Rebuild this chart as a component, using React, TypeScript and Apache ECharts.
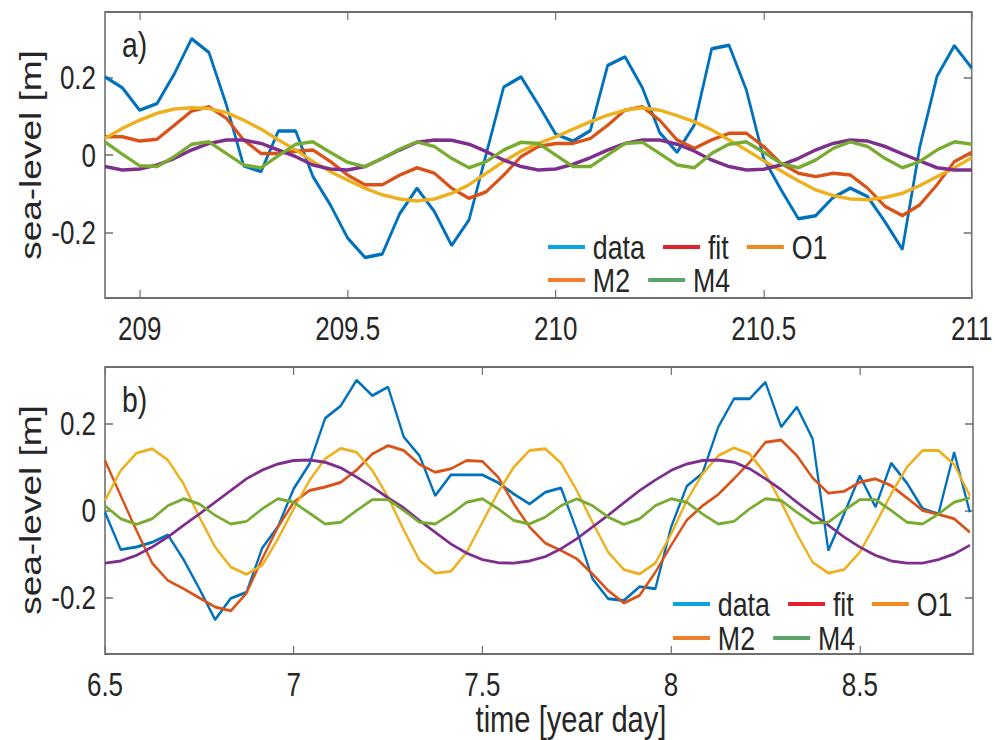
import React, { useEffect, useRef } from 'react';
import * as echarts from 'echarts';

// ---------- sampling (hourly) ----------
const A_START = 208 + 22 / 24;
const B_START = 6.5;
const HOUR = 1 / 24;

// ---------- panel a) values [m] ----------
const aData = [0.202, 0.174, 0.116, 0.133, 0.21, 0.301, 0.265, 0.13, -0.028, -0.043, 0.062, 0.062, -0.056, -0.129, -0.215, -0.265, -0.256, -0.152, -0.086, -0.146, -0.234, -0.168, 0.004, 0.176, 0.202, 0.13, 0.054, 0.036, 0.063, 0.232, 0.254, 0.174, 0.058, 0.007, 0.078, 0.275, 0.284, 0.168, -0.009, -0.09, -0.165, -0.157, -0.11, -0.086, -0.108, -0.173, -0.244, 0.02, 0.204, 0.283, 0.225];
const aFit = [0.047, 0.047, 0.036, 0.041, 0.077, 0.114, 0.125, 0.095, 0.039, 0.004, 0.004, 0.01, 0.013, -0.017, -0.052, -0.077, -0.077, -0.052, -0.033, -0.047, -0.086, -0.112, -0.095, -0.052, -0.004, 0.022, 0.03, 0.03, 0.043, 0.077, 0.116, 0.125, 0.09, 0.039, 0.017, 0.039, 0.056, 0.056, 0.022, -0.022, -0.047, -0.056, -0.047, -0.052, -0.086, -0.133, -0.157, -0.129, -0.077, -0.017, 0.007];
const aO1 = [0.043, 0.069, 0.09, 0.108, 0.119, 0.122, 0.12, 0.11, 0.09, 0.067, 0.039, 0.013, -0.017, -0.043, -0.065, -0.086, -0.103, -0.114, -0.119, -0.114, -0.099, -0.077, -0.047, -0.017, 0.01, 0.03, 0.047, 0.067, 0.086, 0.103, 0.116, 0.122, 0.116, 0.102, 0.086, 0.065, 0.039, 0.013, -0.015, -0.041, -0.067, -0.09, -0.105, -0.114, -0.116, -0.11, -0.099, -0.079, -0.056, -0.033, -0.007];
const aM2 = [-0.03, -0.039, -0.036, -0.026, -0.009, 0.013, 0.03, 0.039, 0.039, 0.03, 0.013, -0.004, -0.026, -0.036, -0.039, -0.03, -0.009, 0.013, 0.033, 0.039, 0.038, 0.028, 0.009, -0.013, -0.03, -0.039, -0.036, -0.024, -0.007, 0.013, 0.03, 0.039, 0.039, 0.028, 0.01, -0.013, -0.03, -0.039, -0.037, -0.026, -0.009, 0.013, 0.03, 0.039, 0.036, 0.022, 0.003, -0.015, -0.033, -0.039, -0.039];
const aM4 = [0.034, 0.002, -0.028, -0.03, -0.004, 0.028, 0.034, 0.004, -0.026, -0.033, -0.002, 0.028, 0.034, 0.007, -0.019, -0.03, -0.009, 0.015, 0.034, 0.022, -0.009, -0.033, -0.017, 0.013, 0.033, 0.03, 0.0, -0.03, -0.03, 0.0, 0.03, 0.033, 0.004, -0.026, -0.033, 0.004, 0.028, 0.034, 0.007, -0.022, -0.033, -0.013, 0.017, 0.034, 0.022, -0.009, -0.033, -0.017, 0.013, 0.034, 0.028];

// ---------- panel b) values [m] ----------
const bData = [-0.004, -0.09, -0.084, -0.073, -0.056, -0.113, -0.18, -0.251, -0.202, -0.188, -0.086, -0.037, 0.05, 0.107, 0.212, 0.241, 0.3, 0.264, 0.284, 0.169, 0.126, 0.034, 0.082, 0.082, 0.082, 0.064, 0.038, 0.015, 0.042, 0.052, -0.046, -0.157, -0.203, -0.207, -0.175, -0.18, -0.038, 0.056, 0.086, 0.192, 0.257, 0.257, 0.295, 0.192, 0.238, 0.165, -0.092, -0.008, 0.08, 0.008, 0.109, 0.063, 0.004, -0.008, 0.134, -0.004];
const bFit = [0.115, 0.034, -0.046, -0.121, -0.161, -0.18, -0.201, -0.222, -0.231, -0.19, -0.111, -0.038, 0.019, 0.046, 0.054, 0.065, 0.093, 0.13, 0.149, 0.138, 0.106, 0.088, 0.096, 0.115, 0.113, 0.077, 0.015, -0.038, -0.075, -0.092, -0.111, -0.146, -0.184, -0.213, -0.195, -0.142, -0.08, -0.022, 0.011, 0.037, 0.073, 0.111, 0.157, 0.162, 0.126, 0.075, 0.04, 0.044, 0.065, 0.073, 0.057, 0.029, 0.0, -0.009, -0.019, -0.05];
const bO1 = [0.023, 0.092, 0.132, 0.142, 0.116, 0.061, -0.015, -0.084, -0.13, -0.147, -0.126, -0.065, 0.004, 0.069, 0.119, 0.143, 0.134, 0.092, 0.031, -0.045, -0.115, -0.144, -0.14, -0.096, -0.027, 0.042, 0.1, 0.138, 0.142, 0.109, 0.046, -0.027, -0.096, -0.136, -0.146, -0.121, -0.054, 0.023, 0.084, 0.126, 0.144, 0.13, 0.084, 0.019, -0.054, -0.119, -0.144, -0.136, -0.096, -0.031, 0.038, 0.1, 0.138, 0.138, 0.106, 0.034];
const bM2 = [-0.121, -0.116, -0.103, -0.084, -0.061, -0.034, -0.008, 0.019, 0.046, 0.073, 0.093, 0.107, 0.115, 0.116, 0.111, 0.098, 0.077, 0.054, 0.029, 0.006, -0.023, -0.05, -0.077, -0.098, -0.113, -0.12, -0.121, -0.116, -0.106, -0.088, -0.065, -0.038, -0.011, 0.018, 0.046, 0.07, 0.092, 0.107, 0.115, 0.116, 0.111, 0.096, 0.073, 0.048, 0.019, -0.008, -0.034, -0.061, -0.084, -0.103, -0.116, -0.121, -0.121, -0.113, -0.1, -0.08];
const bM4 = [0.011, -0.019, -0.032, -0.019, 0.011, 0.027, 0.015, -0.011, -0.031, -0.025, 0.004, 0.027, 0.019, -0.006, -0.031, -0.027, 0.0, 0.025, 0.025, 0.0, -0.027, -0.031, -0.008, 0.019, 0.027, 0.004, -0.023, -0.031, -0.015, 0.011, 0.027, 0.011, -0.015, -0.032, -0.019, 0.011, 0.027, 0.019, -0.008, -0.031, -0.025, 0.004, 0.027, 0.023, -0.004, -0.029, -0.027, 0.0, 0.025, 0.025, 0.0, -0.027, -0.031, -0.008, 0.019, 0.029];

// ---------- axes ----------
const aXTicks = [209, 209.5, 210, 210.5, 211];
const bXTicks = [6.5, 7, 7.5, 8, 8.5];
const yTicks = [-0.2, 0, 0.2];
const seriesNames = ['data', 'fit', 'O1', 'M2', 'M4'];

const LINE_COLORS = ['#0072BD', '#D95319', '#EDB120', '#7E2F8E', '#77AC30'];
const LEGEND_COLORS = ['#0aa3e6', '#e5202c', '#f2891f', '#ef7f2c', '#5ba36a'];
const FONT = "'Liberation Sans', Arial, Helvetica, sans-serif";
const AXIS_COLOR = '#6e6e6e';
const TEXT_COLOR = '#262626';

// The reference figure is horizontally squeezed; the chart is laid out in a
// wider frame and compressed with a CSS scaleX.
const SQUEEZE = 0.787;
const PAGE_W = 995;
const PAGE_H = 740;
const FRAME_W = PAGE_W / SQUEEZE;
const sx = (px: number) => px / SQUEEZE;

function toPairs(start: number, vals: number[]) {
  return vals.map((v, i) => [start + i * HOUR, v]);
}

function xAxes(gridIndex: number, min: number, max: number, ticks: number[]) {
  const common = {
    type: 'value', gridIndex, min, max,
    splitLine: { show: false },
    axisLine: { show: false, onZero: false },
    axisTick: { show: true, inside: true, length: 8, customValues: ticks, lineStyle: { color: AXIS_COLOR, width: 1.5 } },
  };
  return [
    { ...common, position: 'bottom', axisLabel: { show: true, customValues: ticks, margin: 15, fontSize: 33, lineHeight: 30, color: TEXT_COLOR, fontFamily: FONT } },
    { ...common, position: 'top', axisLabel: { show: false } },
  ];
}

function yAxes(gridIndex: number, lim: number) {
  const common = {
    type: 'value', gridIndex, min: -lim, max: lim,
    splitLine: { show: false },
    axisLine: { show: false, onZero: false },
    axisTick: { show: true, inside: true, length: sx(8), customValues: yTicks, lineStyle: { color: AXIS_COLOR, width: 1.5 } },
  };
  return [
    { ...common, position: 'left', axisLabel: { show: true, customValues: yTicks, margin: sx(9), fontSize: 33, lineHeight: 30, color: TEXT_COLOR, fontFamily: FONT } },
    { ...common, position: 'right', axisLabel: { show: false } },
  ];
}

function panelSeries(start: number, arrays: number[][], xIdx: number, yIdx: number, width: number) {
  return arrays.map((vals, k) => ({
    type: 'line',
    name: seriesNames[k],
    xAxisIndex: xIdx,
    yAxisIndex: yIdx,
    data: toPairs(start, vals),
    showSymbol: false,
    symbol: 'none',
    lineStyle: { color: LINE_COLORS[k], width },
    itemStyle: { color: LINE_COLORS[k] },
    z: 2 + k,
  }));
}

function legendRow(leftPx: number, top: number, names: string[]) {
  return {
    left: sx(leftPx), top, orient: 'horizontal', padding: 0, itemGap: 23,
    itemWidth: sx(37), itemHeight: 4, icon: 'rect', selectedMode: false,
    textStyle: { fontSize: 34, lineHeight: 30, color: TEXT_COLOR, fontFamily: FONT, padding: [0, 0, 0, 5] },
    data: names.map((n) => ({ name: n, itemStyle: { color: LEGEND_COLORS[seriesNames.indexOf(n)] } })),
  };
}

const gridA = { left: sx(105), top: 12, width: sx(868), height: 286 };
const gridB = { left: sx(105), top: 367, width: sx(868), height: 287 };

const option = {
  animation: false,
  backgroundColor: '#ffffff',
  grid: [
    { ...gridA, show: true, borderColor: AXIS_COLOR, borderWidth: 2, backgroundColor: 'transparent' },
    { ...gridB, show: true, borderColor: AXIS_COLOR, borderWidth: 2, backgroundColor: 'transparent' },
  ],
  xAxis: [...xAxes(0, A_START, 211, aXTicks), ...xAxes(1, 6.5, 8.8, bXTicks)],
  yAxis: [...yAxes(0, 0.37), ...yAxes(1, 0.33)],
  legend: [
    legendRow(548, 230, ['data', 'fit', 'O1']),
    legendRow(548, 263, ['M2', 'M4']),
    legendRow(673, 587, ['data', 'fit', 'O1']),
    legendRow(673, 621, ['M2', 'M4']),
  ],
  graphic: [
    { type: 'text', left: sx(122), top: 27, style: { text: 'a)', fontSize: 36, fill: TEXT_COLOR, fontFamily: FONT } },
    { type: 'text', left: sx(122), top: 382, style: { text: 'b)', fontSize: 36, fill: TEXT_COLOR, fontFamily: FONT } },
    { type: 'text', x: sx(31), y: 155, rotation: Math.PI / 2, style: { text: 'sea-level [m]', fontSize: 37, lineHeight: 34, fill: TEXT_COLOR, fontFamily: FONT, align: 'center', verticalAlign: 'middle' } },
    { type: 'text', x: sx(31), y: 510, rotation: Math.PI / 2, style: { text: 'sea-level [m]', fontSize: 37, lineHeight: 34, fill: TEXT_COLOR, fontFamily: FONT, align: 'center', verticalAlign: 'middle' } },
    { type: 'text', x: sx(571), y: 719, style: { text: 'time [year day]', fontSize: 37, lineHeight: 32, fill: TEXT_COLOR, fontFamily: FONT, align: 'center', verticalAlign: 'middle' } },
  ],
  series: [
    ...panelSeries(A_START, [aData, aFit, aO1, aM2, aM4], 0, 0, 3.5),
    ...panelSeries(B_START, [bData, bFit, bO1, bM2, bM4], 2, 2, 2.9),
  ],
};

export default function App() {
  const ref = useRef<HTMLDivElement>(null);
  useEffect(() => {
    if (!ref.current) return;
    const chart = echarts.init(ref.current, null, { renderer: 'svg' });
    chart.setOption(option as any);
    return () => chart.dispose();
  }, []);
  return (
    <div style={{ position: 'fixed', left: 0, top: 0, width: PAGE_W, height: PAGE_H, overflow: 'hidden', background: '#ffffff' }}>
      <div
        ref={ref}
        style={{ width: FRAME_W, height: PAGE_H, transform: `scaleX(${SQUEEZE})`, transformOrigin: '0 0' }}
      />
    </div>
  );
}
